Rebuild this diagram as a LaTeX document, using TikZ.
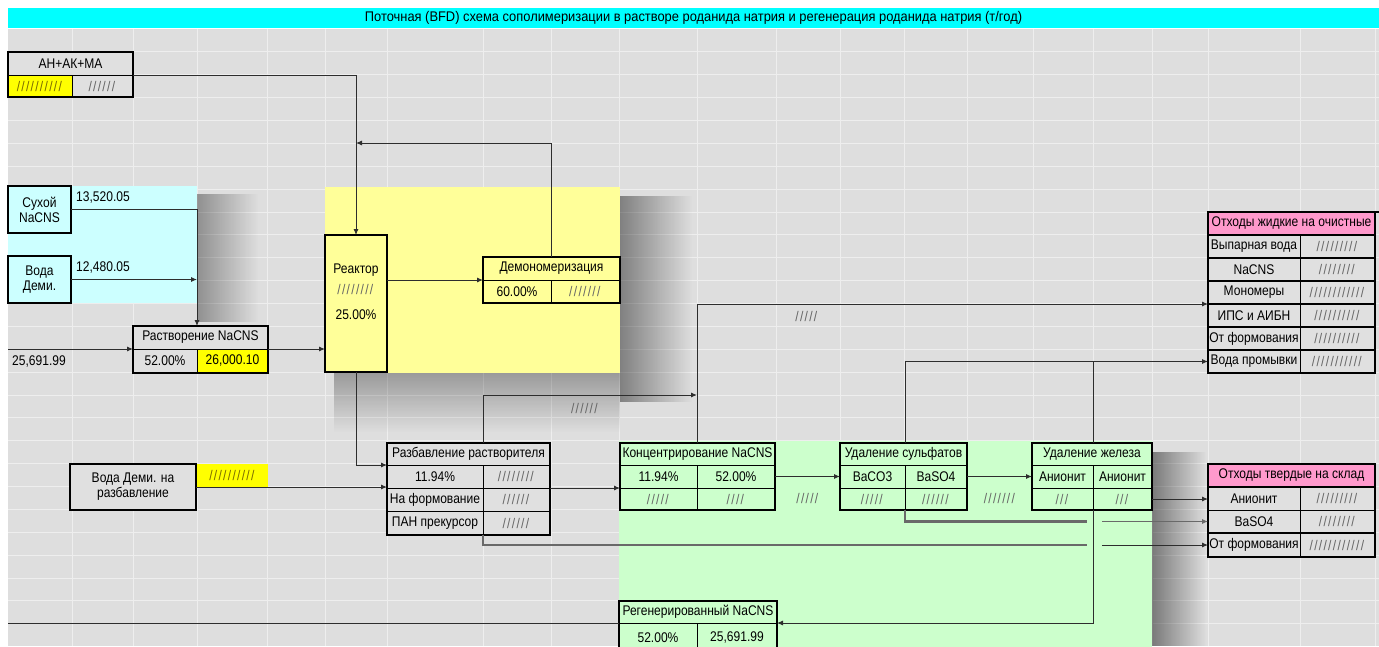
\documentclass[tikz,border=0pt]{standalone}
\usepackage{fontspec}
\setmainfont{Liberation Sans}[FakeStretch=0.86]
\usetikzlibrary{arrows.meta,fadings,calc}
\definecolor{bg}{RGB}{222,222,222}
\definecolor{gridc}{RGB}{238,238,238}
\definecolor{titlec}{RGB}{0,255,255}
\definecolor{cyanr}{RGB}{204,255,255}
\definecolor{yellr}{RGB}{255,255,153}
\definecolor{greenr}{RGB}{204,255,204}
\definecolor{pinkc}{RGB}{255,153,204}
\definecolor{yelc}{RGB}{255,255,0}
\definecolor{cellg}{RGB}{224,224,224}
\definecolor{hatchc}{RGB}{100,100,100}
\definecolor{olivec}{RGB}{120,105,0}
\definecolor{linec}{RGB}{45,45,45}
\definecolor{thickc}{RGB}{105,105,105}
\newcommand\hatchtext[2][hatchc]{\textcolor{#1}{\foreach\i in{1,...,#2}{/\kern1.3pt}}}
\newcommand\cellat[7]{\node[cellst,#6,minimum width={(#4-#2)*1pt},minimum height={(#5-#3)*1pt}] (#1) at ({(#2+#4)/2},{(#3+#5)/2}) {#7};}
\begin{document}
\begin{tikzpicture}[x=1pt,y=-1pt,font=\fontsize{14}{15}\selectfont,
  cellst/.style={draw=black,line width=0.7pt,inner sep=0pt,outer sep=0pt,align=center},
  bord/.style={draw=black,line width=1.4pt},
  topb/.style={draw=black,line width=2.6pt},
  ln/.style={draw=linec,line width=0.9pt},
  arr/.style={ln,-{Latex[length=6pt,width=5pt]}},
  thk/.style={draw=thickc,line width=2.4pt},
  lbl/.style={inner sep=0pt},
  shE/.style={fill=black,fill opacity=#1,path fading=east},
  shS/.style={fill=black,fill opacity=#1,path fading=south}]
\useasboundingbox (0,0) rectangle (1379,646);
\fill[white] (0,0) rectangle (1379,646);
\fill[bg] (8,29) rectangle (1379,646);
\foreach \x in {72,133,197,267,325,387,483,551,619,697,776,840,904,967,1033,1093,1152,1208,1300,1375}
  \draw[gridc,line width=1pt] (\x,29) -- (\x,646);
\foreach \k in {1,...,26}
  \draw[gridc,line width=1pt] (8,{29.1+22.875*\k}) -- (1379,{29.1+22.875*\k});
% shadows
\path[shE=0.35] (197,194) rectangle (258,322);
\path[shE=0.42] (620,196) rectangle (692,402);
\path[shS=0.30] (334,373) rectangle (620,432);
\path[shE=0.45] (1152,452) rectangle (1206,646);
% title
\node[fill=titlec,minimum width=1371pt,minimum height=20pt,inner sep=0pt] (title) at (693.5,18)
  {\addfontfeature{FakeStretch=0.92}Поточная (BFD) схема сополимеризации в растворе роданида натрия и регенерация роданида натрия (т/год)};
% regions
\fill[cyanr] (8,186) rectangle (197,303);
\fill[yellr] (325,187) rectangle (620,373);
\fill[greenr] (619,441) rectangle (1152,680);
% AN+AK+MA
\cellat{an}{8}{52}{133}{75}{fill=cellg}{АН+АК+МА}
\cellat{anA}{8}{75}{72}{97}{fill=yelc}{\hatchtext[olivec]{10}}
\cellat{anB}{72}{75}{133}{97}{fill=cellg}{\hatchtext{6}}
\draw[bord] (an.north west) rectangle (anB.south east);
\draw[topb] (an.north west) -- (an.north east);
% dry NaCNS and water
\cellat{sux}{8}{186}{71}{233}{fill=cyanr,line width=1.4pt}{Сухой\\NaCNS}
\cellat{voda}{8}{256}{71}{303}{fill=cyanr,line width=1.4pt}{Вода\\Деми.}
\node[lbl,anchor=west] (v1) at (76,198) {13,520.05};
\node[lbl,anchor=west] (v2) at (76,268) {12,480.05};
% dissolution
\cellat{rast}{133}{326}{268}{349}{fill=cellg}{Растворение NaCNS}
\cellat{rastA}{133}{349}{197}{373}{fill=cellg}{52.00\%}
\cellat{rastB}{197}{349}{268}{373}{fill=yelc}{26,000.10}
\draw[bord] (rast.north west) rectangle (rastB.south east);
\draw[topb] (rast.north west) -- (rast.north east);
\coordinate (inL) at (8,349);
\node[lbl,anchor=west] (v3) at (12,362) {25,691.99};
% reactor
\cellat{reactor}{325}{235}{387}{372}{fill=yellr,line width=1.4pt}{}
\draw[topb] (reactor.south west) -- (reactor.south east);
\node[lbl] (rt1) at ($(reactor.north)+(0,35)$) {Реактор};
\node[lbl] (rt2) at ($(reactor.north)+(0,54)$) {\hatchtext{8}};
\node[lbl] (rt3) at ($(reactor.north)+(0,80)$) {25.00\%};
% demonomerization
\cellat{dem}{483}{257}{620}{280}{fill=yellr}{Демономеризация}
\cellat{demA}{483}{280}{551}{303}{fill=yellr}{60.00\%}
\cellat{demB}{551}{280}{620}{303}{fill=yellr}{\hatchtext{7}}
\draw[bord] (dem.north west) rectangle (demB.south east);
\draw[topb] (dem.north west) -- (dem.north east);
% water for dilution
\cellat{vr}{70}{464}{196}{510}{fill=cellg,line width=1.4pt}{Вода Деми. на\\разбавление}
\cellat{vrY}{197}{464}{268}{487}{fill=yelc,draw=none}{\hatchtext[olivec]{10}}
% dilution
\cellat{raz}{387}{443}{550}{465}{fill=cellg}{Разбавление растворителя}
\cellat{razA1}{387}{465}{483}{488}{fill=cellg}{11.94\%}
\cellat{razA2}{483}{465}{550}{488}{fill=cellg}{\hatchtext{8}}
\cellat{razB1}{387}{488}{483}{511}{fill=cellg}{На формование}
\cellat{razB2}{483}{488}{550}{511}{fill=cellg}{\hatchtext{6}}
\cellat{razC1}{387}{511}{483}{535}{fill=cellg}{ПАН прекурсор}
\cellat{razC2}{483}{511}{550}{535}{fill=cellg}{\hatchtext{6}}
\draw[bord] (raz.north west) rectangle (razC2.south east);
\draw[topb] (raz.north west) -- (raz.north east);
\draw[topb] (razC1.south west) -- (razC2.south east);
% concentration
\cellat{conc}{620}{443}{775}{465}{fill=greenr}{Концентрирование NaCNS}
\cellat{concA}{620}{465}{697}{488}{fill=greenr}{11.94\%}
\cellat{concB}{697}{465}{775}{488}{fill=greenr}{52.00\%}
\cellat{concC}{620}{488}{697}{510}{fill=greenr}{\hatchtext{5}}
\cellat{concD}{697}{488}{775}{510}{fill=greenr}{\hatchtext{4}}
\draw[bord] (conc.north west) rectangle (concD.south east);
\draw[topb] (conc.north west) -- (conc.north east);
% sulfate removal
\cellat{sul}{840}{443}{967}{465}{fill=greenr}{Удаление сульфатов}
\cellat{sulA}{840}{465}{905}{488}{fill=greenr}{BaCO3}
\cellat{sulB}{905}{465}{967}{488}{fill=greenr}{BaSO4}
\cellat{sulC}{840}{488}{905}{510}{fill=greenr}{\hatchtext{5}}
\cellat{sulD}{905}{488}{967}{510}{fill=greenr}{\hatchtext{6}}
\draw[bord] (sul.north west) rectangle (sulD.south east);
\draw[topb] (sul.north west) -- (sul.north east);
% iron removal
\cellat{fe}{1032}{443}{1152}{465}{fill=greenr}{Удаление железа}
\cellat{feA}{1032}{465}{1093}{488}{fill=greenr}{Анионит}
\cellat{feB}{1093}{465}{1152}{488}{fill=greenr}{Анионит}
\cellat{feC}{1032}{488}{1093}{510}{fill=greenr}{\hatchtext{3}}
\cellat{feD}{1093}{488}{1152}{510}{fill=greenr}{\hatchtext{3}}
\draw[bord] (fe.north west) rectangle (feD.south east);
\draw[topb] (fe.north west) -- (fe.north east);
% regenerated
\cellat{reg}{619}{601}{777}{623}{fill=greenr}{Регенерированный NaCNS}
\cellat{regA}{619}{623}{697}{652}{fill=greenr}{52.00\%}
\cellat{regB}{697}{623}{777}{652}{fill=greenr}{25,691.99}
\draw[bord] (reg.north west) rectangle (regB.south east);
% liquid waste table
\cellat{liq0}{1208}{212}{1375}{235}{fill=pinkc}{Отходы жидкие на очистные}
\cellat{liq1}{1208}{235}{1300}{258}{fill=cellg}{Выпарная вода}
\cellat{liq1h}{1300}{235}{1375}{258}{fill=cellg}{\hatchtext{9}}
\cellat{liq2}{1208}{258}{1300}{281}{fill=cellg}{NaCNS}
\cellat{liq2h}{1300}{258}{1375}{281}{fill=cellg}{\hatchtext{8}}
\cellat{liq3}{1208}{281}{1300}{304}{fill=cellg}{Мономеры}
\cellat{liq3h}{1300}{281}{1375}{304}{fill=cellg}{\hatchtext{12}}
\cellat{liq4}{1208}{304}{1300}{327}{fill=cellg}{ИПС и АИБН}
\cellat{liq4h}{1300}{304}{1375}{327}{fill=cellg}{\hatchtext{10}}
\cellat{liq5}{1208}{327}{1300}{350}{fill=cellg}{От формования}
\cellat{liq5h}{1300}{327}{1375}{350}{fill=cellg}{\hatchtext{10}}
\cellat{liq6}{1208}{350}{1300}{373}{fill=cellg}{Вода промывки}
\cellat{liq6h}{1300}{350}{1375}{373}{fill=cellg}{\hatchtext{11}}
\foreach \r in {0,...,6}{\draw[bord] (liq\r.north west) -- (liq\r.north east) -- ($(liq\r.north east)+(75,0)$);}
\draw[bord] (liq0.north west) rectangle (liq6h.south east);
% solid waste table
\cellat{sol0}{1208}{464}{1375}{487}{fill=pinkc}{Отходы твердые на склад}
\cellat{sol1}{1208}{487}{1300}{510}{fill=cellg}{Анионит}
\cellat{sol1h}{1300}{487}{1375}{510}{fill=cellg}{\hatchtext{9}}
\cellat{sol2}{1208}{510}{1300}{533}{fill=cellg}{BaSO4}
\cellat{sol2h}{1300}{510}{1375}{533}{fill=cellg}{\hatchtext{8}}
\cellat{sol3}{1208}{533}{1300}{557}{fill=cellg}{От формования}
\cellat{sol3h}{1300}{533}{1375}{557}{fill=cellg}{\hatchtext{12}}
\draw[bord] (sol0.north west) rectangle (sol3h.south east);
\draw[bord] (sol0.south west) -- (sol1h.north east);
\draw[bord] (sol3.north west) -- (sol3h.north east);
% ---- connectors ----
\draw[arr] (an.south east) -| (reactor.north);
\coordinate (rc) at (551,143);
\draw[arr] (dem.north -| demA.east) -- (rc) -- (rc -| reactor.north);
\draw[arr] (sux.east) -| (rast.north -| rastA.east);
\draw[arr] (voda.east) -- (voda.east -| rastA.east);
\draw[arr] (inL) -- (rast.south west);
\draw[arr] (rastB.north east) -- (rastB.north east -| reactor.west);
\draw[arr] (reactor.east |- dem.south west) -- (dem.south west);
\draw[arr] (reactor.south) |- (raz.south west);
\draw[arr] (vr.east) -- (vr.east -| raz.west);
\draw[arr] (razA2.south east) -- (razA2.south east -| conc.west);
\coordinate (rz) at (483,395);
\draw[arr] (raz.north -| razA1.east) -- (rz) -- (rz -| concA.east);
\node[lbl] (l1) at (585,408) {\hatchtext{6}};
\draw[arr] (conc.north -| concA.east) |- (liq3.south west);
\node[lbl] (l2) at (807,316) {\hatchtext{5}};
\draw[arr] (concB.east) -- (concB.east -| sul.west);
\node[lbl] (l3) at (808,498) {\hatchtext{5}};
\draw[arr] (sulB.east) -- (sulB.east -| fe.west);
\node[lbl] (l4) at (1000,498) {\hatchtext{7}};
\draw[arr] (sul.north -| sulA.east) |- (liq6.west);
\draw[ln] (fe.north -| feA.east) -- (feA.east |- liq6.west);
\draw[arr] (feD.east) -- (feD.east -| sol1.west);
\coordinate (bsB) at ($(feA.east |- sol2.west)+(-6,0)$);
\coordinate (bsC) at ($(feA.east |- sol2.west)+(9,0)$);
\draw[thk] (sulC.south east) |- (bsB);
\draw[arr,draw=thickc] (bsC) -- (sol2.west);
\coordinate (fmB) at ($(feA.east |- sol3.west)+(-6,0)$);
\coordinate (fmC) at ($(feA.east |- sol3.west)+(9,0)$);
\draw[thk] (razC1.south east) |- (fmB);
\draw[arr] (fmC) -- (sol3.west);
\draw[arr] (feC.south east) |- (regB.north east);
\draw[ln] (regA.north west) -- (regA.north west -| inL);
\end{tikzpicture}
\end{document}
